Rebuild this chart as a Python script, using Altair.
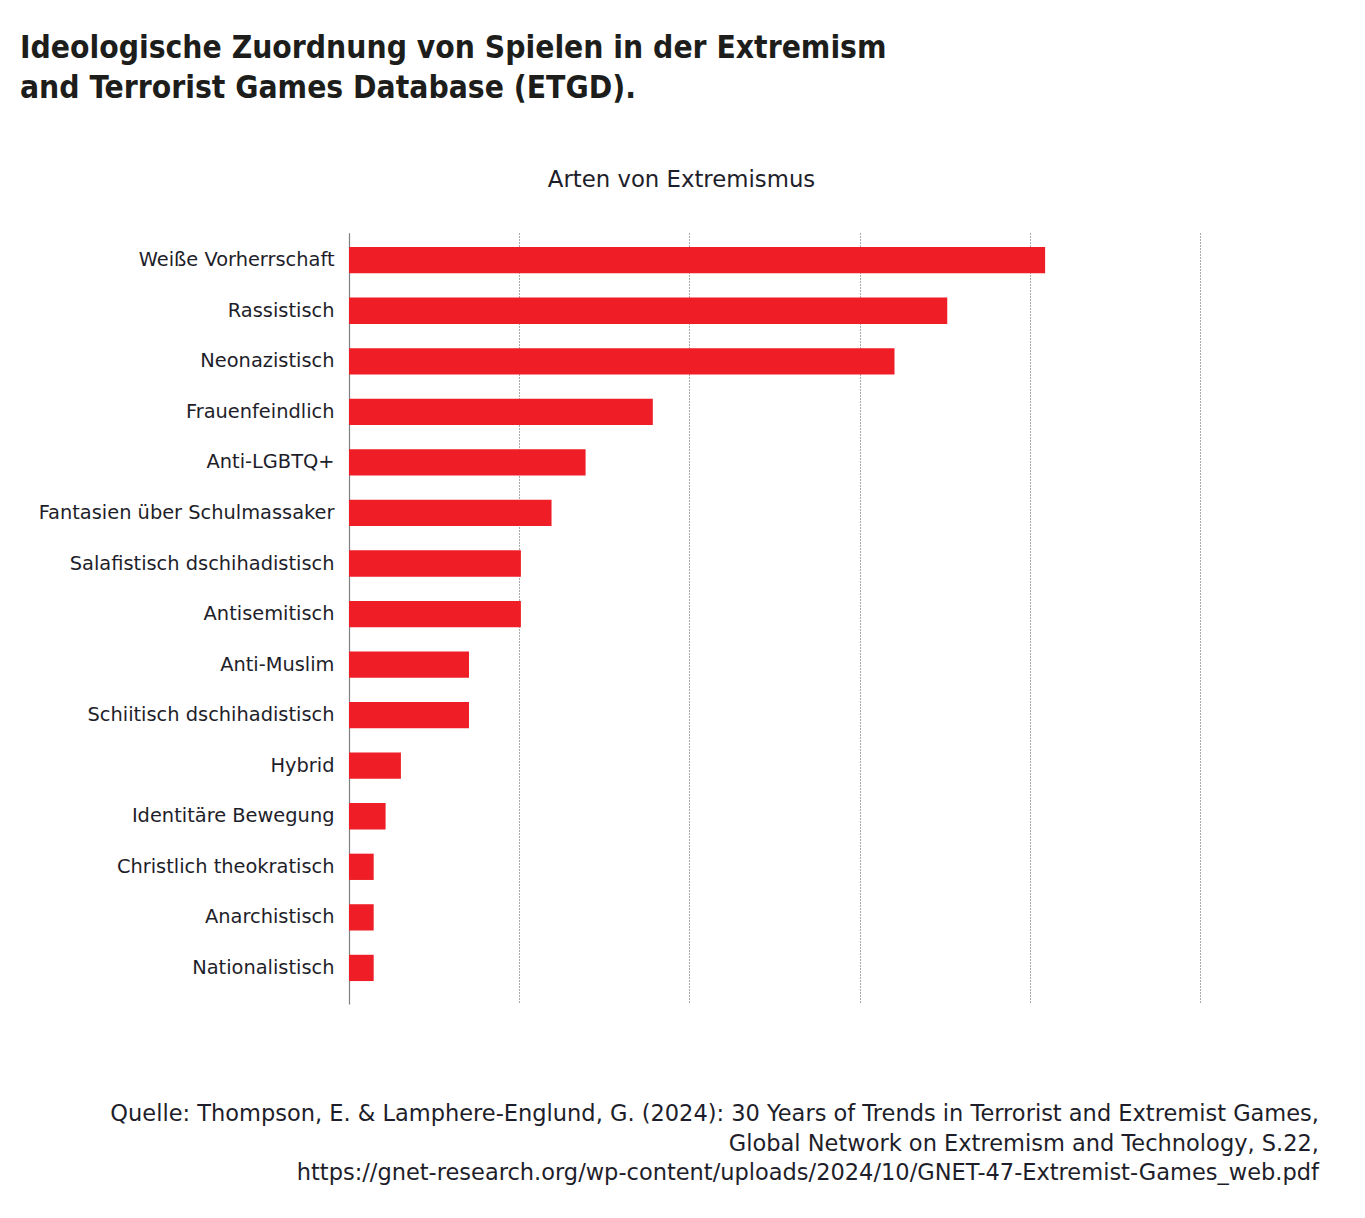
import altair as alt
import pandas as pd

categories = [
    "Weiße Vorherrschaft", "Rassistisch", "Neonazistisch", "Frauenfeindlich",
    "Anti-LGBTQ+", "Fantasien über Schulmassaker", "Salafistisch dschihadistisch",
    "Antisemitisch", "Anti-Muslim", "Schiitisch dschihadistisch", "Hybrid",
    "Identitäre Bewegung", "Christlich theokratisch", "Anarchistisch", "Nationalistisch",
]
values = [81.8, 70.3, 64.1, 35.7, 27.8, 23.8, 20.2, 20.2, 14.1, 14.1, 6.1, 4.3, 2.9, 2.9, 2.9]
grid_ticks = [0, 20, 40, 60, 80, 100]

title_lines = [
    "Ideologische Zuordnung von Spielen in der Extremism",
    "and Terrorist Games Database (ETGD).",
]
axis_title = "Arten von Extremismus"
footer_lines = [
    "Quelle: Thompson, E. & Lamphere-Englund, G. (2024): 30 Years of Trends in Terrorist and Extremist Games,",
    "Global Network on Extremism and Technology, S.22,",
    "https://gnet-research.org/wp-content/uploads/2024/10/GNET-47-Extremist-Games_web.pdf",
]

df = pd.DataFrame({"cat": categories, "val": values})

BODY = "DejaVu Sans"
TXT = "#1e1e2a"

bars = alt.Chart(df).mark_bar(color="#EE1D26").encode(
    x=alt.X(
        "val:Q",
        scale=alt.Scale(domain=[0, 100], nice=False),
        axis=alt.Axis(
            orient="top", values=grid_ticks, labels=False, ticks=False, domain=False,
            grid=True, gridColor="#555555", gridDash=[1, 2], gridWidth=1,
            title=axis_title, titleFont=BODY, titleFontSize=22.8, titleFontWeight="normal",
            titleColor=TXT, titleX=332, titleY=-47, titleAlign="center",
            titleBaseline="alphabetic", titleAnchor=None,
        ),
    ),
    y=alt.Y(
        "cat:N",
        sort=categories,
        scale=alt.Scale(paddingInner=0.48, paddingOuter=0.366, align=0.38),
        axis=alt.Axis(
            title=None, ticks=False, grid=False, domain=True, domainColor="#808080",
            domainWidth=1.2, labelFont=BODY, labelFontSize=19.4, labelColor=TXT,
            labelPadding=15, labelLimit=500,
        ),
    ),
)

footer = alt.Chart(pd.DataFrame({"a": [0]})).mark_text(
    align="right", baseline="alphabetic", font=BODY, fontSize=22.5,
    lineHeight=29.5, color=TXT,
).encode(
    x=alt.value(970), y=alt.value(888), text=alt.value(footer_lines)
)

chart = alt.layer(bars, footer).properties(
    width=851,
    height=771,
    background="white",
    autosize=alt.AutoSizeParams(type="none"),
    padding={"left": 341, "top": 225, "right": 150, "bottom": 200},
    title=alt.TitleParams(
        text=title_lines, anchor="start", frame="group", dx=-329, dy=-44,
        font="DejaVu Sans Condensed", fontSize=31.5, fontWeight="bold", color="#1d1d1b",
        lineHeight=40, offset=20,
    ),
).configure_view(stroke="transparent", strokeWidth=0)

chart.save("out.html", embed_options={"renderer": "svg", "actions": False})
